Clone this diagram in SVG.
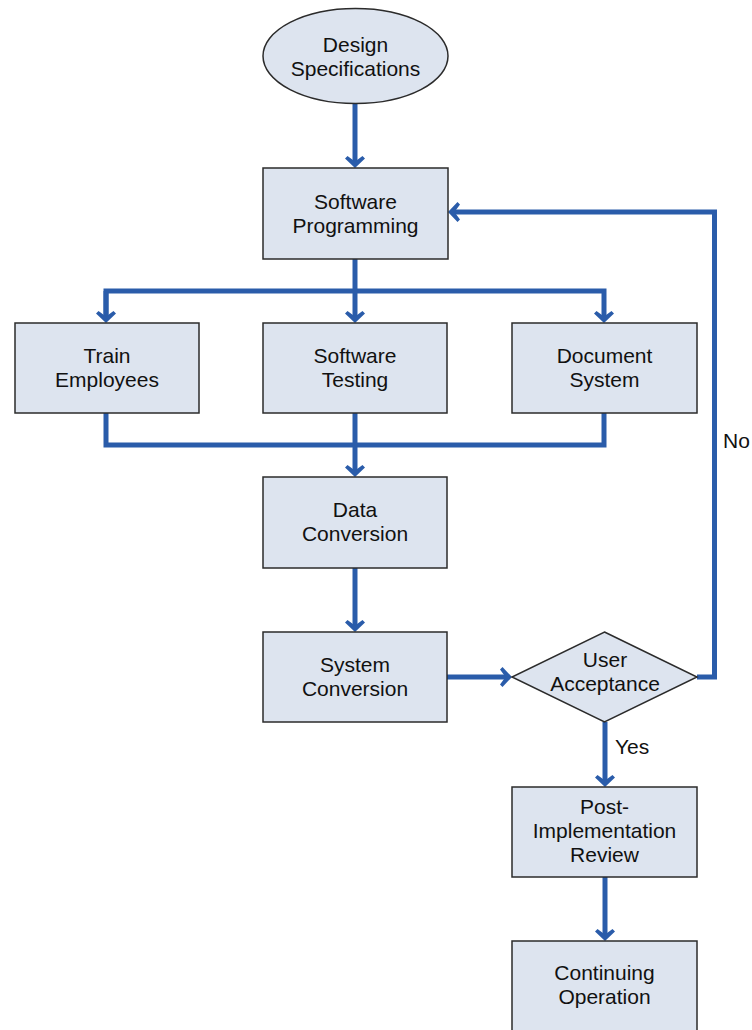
<svg xmlns="http://www.w3.org/2000/svg" width="752" height="1030" viewBox="0 0 752 1030">
  <style>
    .box { fill: #dde4ef; stroke: #2b2b2b; stroke-width: 1.5; }
    .lbl { font-family: "Liberation Sans", Arial, sans-serif; font-size: 21px; fill: #111; text-anchor: middle; }
    .side { font-family: "Liberation Sans", Arial, sans-serif; font-size: 21px; fill: #111; }
    .flow { fill: none; stroke: #2a5caa; stroke-width: 5; stroke-linejoin: miter; }
  </style>
  <defs>
    <marker id="head" markerUnits="userSpaceOnUse" markerWidth="12" markerHeight="20" viewBox="0 0 12 20" refX="6" refY="10" orient="auto">
      <path d="M12,10 L2.5,0 L0,2.5 L5.5,10 L0,17.5 L2.5,20 Z" fill="#2a5caa"/>
    </marker>
  </defs>

  <g id="connectors">
    <path class="flow" d="M355,104 V162" marker-end="url(#head)"/>
    <path class="flow" d="M355,259 V317" marker-end="url(#head)"/>
    <path class="flow" d="M106,317 V291 H604 V317" marker-end="url(#head)"/>
    <path class="flow" d="M106,291 V317" marker-end="url(#head)"/>
    <path class="flow" d="M106,413 V445 H604 V413"/>
    <path class="flow" d="M355,413 V471" marker-end="url(#head)"/>
    <path class="flow" d="M355,568 V626" marker-end="url(#head)"/>
    <path class="flow" d="M447,677 H506" marker-end="url(#head)"/>
    <path class="flow" d="M697,677 H714.5 V212 H454" marker-end="url(#head)"/>
    <path class="flow" d="M605,722 V781" marker-end="url(#head)"/>
    <path class="flow" d="M605,877 V935" marker-end="url(#head)"/>
    <text class="side" x="615" y="754">Yes</text>
    <text class="side" x="723" y="448">No</text>
  </g>

  <g id="design-specifications">
    <ellipse class="box" cx="355.5" cy="56" rx="92.5" ry="47.5"/>
    <text class="lbl" x="355.5" y="52">Design</text>
    <text class="lbl" x="355.5" y="76">Specifications</text>
  </g>

  <g id="software-programming">
    <rect class="box" x="263" y="168" width="185" height="91"/>
    <text class="lbl" x="355.5" y="208.5">Software</text>
    <text class="lbl" x="355.5" y="232.5">Programming</text>
  </g>

  <g id="train-employees">
    <rect class="box" x="15" y="323" width="184" height="90"/>
    <text class="lbl" x="107" y="363">Train</text>
    <text class="lbl" x="107" y="387">Employees</text>
  </g>

  <g id="software-testing">
    <rect class="box" x="263" y="323" width="184" height="90"/>
    <text class="lbl" x="355" y="363">Software</text>
    <text class="lbl" x="355" y="387">Testing</text>
  </g>

  <g id="document-system">
    <rect class="box" x="512" y="323" width="185" height="90"/>
    <text class="lbl" x="604.5" y="363">Document</text>
    <text class="lbl" x="604.5" y="387">System</text>
  </g>

  <g id="data-conversion">
    <rect class="box" x="263" y="477" width="184" height="91"/>
    <text class="lbl" x="355" y="517">Data</text>
    <text class="lbl" x="355" y="541">Conversion</text>
  </g>

  <g id="system-conversion">
    <rect class="box" x="263" y="632" width="184" height="90"/>
    <text class="lbl" x="355" y="672">System</text>
    <text class="lbl" x="355" y="696">Conversion</text>
  </g>

  <g id="user-acceptance">
    <polygon class="box" points="604.5,632 697,677 604.5,722 512,677"/>
    <text class="lbl" x="605" y="667">User</text>
    <text class="lbl" x="605" y="691">Acceptance</text>
  </g>

  <g id="post-implementation-review">
    <rect class="box" x="512" y="787" width="185" height="90"/>
    <text class="lbl" x="604.5" y="814">Post-</text>
    <text class="lbl" x="604.5" y="838">Implementation</text>
    <text class="lbl" x="604.5" y="862">Review</text>
  </g>

  <g id="continuing-operation">
    <rect class="box" x="512" y="941" width="185" height="100"/>
    <text class="lbl" x="604.5" y="980">Continuing</text>
    <text class="lbl" x="604.5" y="1004">Operation</text>
  </g>
</svg>
